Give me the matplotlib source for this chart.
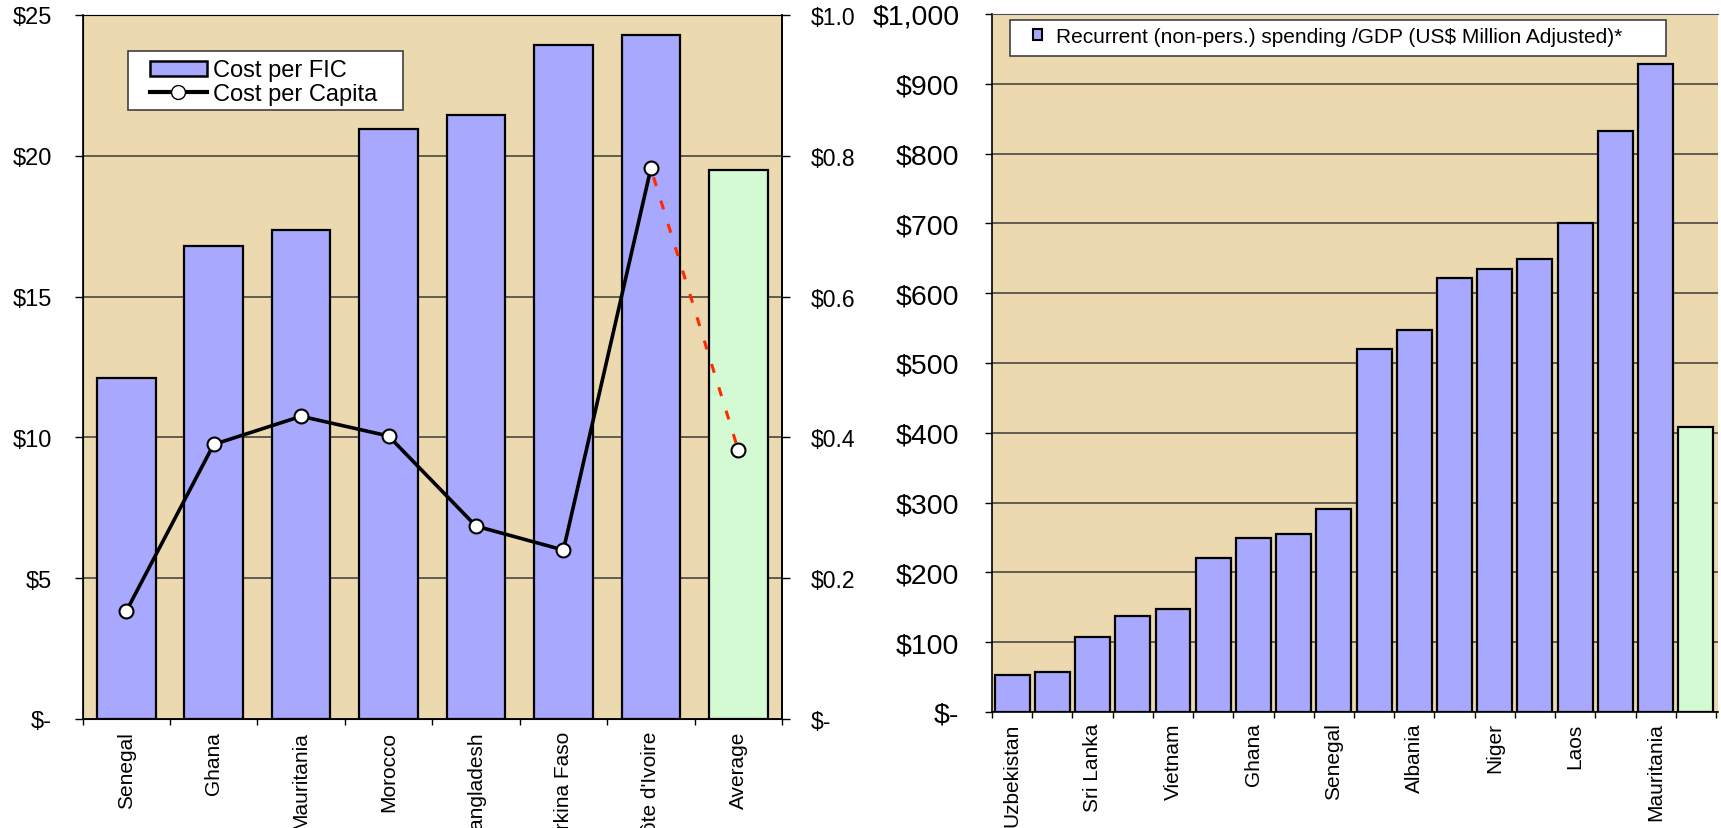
import numpy as np
import matplotlib
matplotlib.use("Agg")
import matplotlib.pyplot as plt
from matplotlib.lines import Line2D
from matplotlib.patches import Patch, Rectangle

plt.rcParams['font.family'] = ['Liberation Sans', 'DejaVu Sans']

# left chart data
fic_countries = ["Senegal", "Ghana", "Mauritania", "Morocco", "Bangladesh",
                 "Burkina Faso", "Côte d'Ivoire", "Average"]
cost_per_fic = [12.1, 16.8, 17.35, 20.95, 21.45, 23.95, 24.3, 19.5]
cost_per_capita = [0.153, 0.39, 0.43, 0.402, 0.274, 0.24, 0.782, 0.382]

# right chart data
spend_countries = ["Uzbekistan", "", "Sri Lanka", "", "Vietnam", "", "Ghana", "",
                   "Senegal", "", "Albania", "", "Niger", "", "Laos", "",
                   "Mauritania", ""]
recurrent_spend = [53, 58, 108, 138, 148, 220, 250, 255, 291, 520, 547, 622,
                   635, 649, 700, 833, 929, 409]

left_ticks = [0, 5, 10, 15, 20, 25]
left_ticklabels = ["$-", "$5", "$10", "$15", "$20", "$25"]
capita_ticks = [0, 0.2, 0.4, 0.6, 0.8, 1.0]
capita_ticklabels = ["$-", "$0.2", "$0.4", "$0.6", "$0.8", "$1.0"]
spend_ticks = list(range(0, 1001, 100))
spend_ticklabels = ["$-"] + ["${:,}".format(v) for v in spend_ticks[1:]]

BLUE = "#a8a8ff"
GREEN = "#d4fad4"
PAPER = "#ecd9b0"
GRID = "#3a3a3a"

W, H = 1721, 829
fig = plt.figure(figsize=(W / 100, H / 100), dpi=100)
fig.patch.set_facecolor("white")


def px_axes(left, top, right, bottom):
    return fig.add_axes([left / W, 1 - bottom / H, (right - left) / W, (bottom - top) / H])


def px_box(left, top, right, bottom):
    # white legend box placed in figure pixels
    r = Rectangle((left / W, 1 - bottom / H), (right - left) / W, (bottom - top) / H,
                  transform=fig.transFigure, facecolor="white", edgecolor="#404040",
                  linewidth=1.2, zorder=5)
    fig.add_artist(r)


# ---------- left chart ----------
ax = px_axes(82.5, 16, 782, 720)
ax.set_facecolor(PAPER)
x = np.arange(len(fic_countries))
colors = [BLUE] * (len(fic_countries) - 1) + [GREEN]
ax.bar(x, cost_per_fic, width=0.67, color=colors, edgecolor="black", linewidth=1.6, zorder=3)
ax.set_xlim(-0.5, len(fic_countries) - 0.5)
ax.set_ylim(0, 25)
ax.set_yticks(left_ticks, left_ticklabels)
ax.yaxis.grid(True, color=GRID, linewidth=1.1, zorder=0)
ax.set_axisbelow(True)
ax.set_xticks(np.arange(len(fic_countries) + 1) - 0.5, [""] * (len(fic_countries) + 1))
ax.set_xticks(x, fic_countries, minor=True)
ax.tick_params(axis="x", which="major", length=4, width=1, direction="out")
ax.tick_params(axis="x", which="minor", length=0, pad=8.5, labelsize=15, labelrotation=90)
ax.tick_params(axis="y", length=5.5, width=1, labelsize=17, pad=16.5)
for lab in ax.get_xticklabels(minor=True):
    lab.set_verticalalignment("top")
for side in ["left", "bottom", "right"]:
    ax.spines[side].set_color("black")
    ax.spines[side].set_linewidth(1.2)
ax.spines["top"].set_color("#707070")

ax2 = ax.twinx()
ax2.set_ylim(0, 1.0)
ax2.set_yticks(capita_ticks, capita_ticklabels)
ax2.tick_params(axis="y", length=5.8, width=1, labelsize=16.5, pad=15)
ax2.plot(x[:7], cost_per_capita[:7], color="black", linewidth=2.6, zorder=3)
ax2.plot(x[6:8], cost_per_capita[6:8], color="#ff2a00", linewidth=2.2,
         linestyle=(5, (3, 5)), zorder=3)
ax2.plot(x, cost_per_capita, linestyle="none", marker="o", markersize=10,
         markerfacecolor="white", markeredgecolor="black", markeredgewidth=1.5, zorder=4)
ax2.spines["right"].set_linewidth(1.2)

px_box(127.7, 51.7, 402.7, 110.7)
handles = [Patch(facecolor=BLUE, edgecolor="black", linewidth=1.8),
           Line2D([], [], color="black", linewidth=3, marker="o", markersize=10,
                  markerfacecolor="white", markeredgecolor="black")]
leg = fig.legend(handles, ["Cost per FIC", "Cost per Capita"], loc="upper left",
                 bbox_to_anchor=(150 / W, 1 - 60.5 / H), bbox_transform=fig.transFigure,
                 fontsize=17, frameon=False, borderpad=0, labelspacing=0.06,
                 handlelength=2.4, handleheight=0.6, handletextpad=0.28, borderaxespad=0)
leg.set_zorder(6)

# ---------- right chart ----------
bx = px_axes(992, 15, 1718, 713)
bx.set_facecolor(PAPER)
xs = np.arange(len(recurrent_spend))
colors2 = [BLUE] * (len(recurrent_spend) - 1) + [GREEN]
bx.bar(xs, recurrent_spend, width=0.87, color=colors2, edgecolor="black", linewidth=1.6, zorder=3)
bx.set_xlim(-0.5, len(recurrent_spend) - 0.45)
bx.set_ylim(0, 1000)
bx.set_yticks(spend_ticks, spend_ticklabels)
bx.yaxis.grid(True, color=GRID, linewidth=1.1, zorder=0)
bx.set_axisbelow(True)
bx.set_xticks(np.arange(len(recurrent_spend) + 1) - 0.5, [""] * (len(recurrent_spend) + 1))
bx.set_xticks(xs[::2], spend_countries[::2], minor=True)
bx.tick_params(axis="x", which="major", length=4, width=1, direction="out")
bx.tick_params(axis="x", which="minor", length=0, pad=7.5, labelsize=15, labelrotation=90)
bx.tick_params(axis="y", length=5, width=1, labelsize=20.5, pad=18.5)
for lab in bx.get_xticklabels(minor=True):
    lab.set_verticalalignment("top")
bx.spines["right"].set_visible(False)
bx.spines["top"].set_color("#505050")
bx.spines["left"].set_linewidth(1.2)
bx.spines["bottom"].set_linewidth(1.2)

px_box(1010, 20.7, 1666, 57.3)
leg2 = fig.legend([Patch(facecolor=BLUE, edgecolor="black", linewidth=1.5)],
                  ["Recurrent (non-pers.) spending /GDP (US$ Million Adjusted)*"],
                  loc="upper left", bbox_to_anchor=(1033 / W, 1 - 27.9 / H),
                  bbox_transform=fig.transFigure, fontsize=15, frameon=False,
                  borderpad=0, handlelength=0.42, handleheight=0.43, handletextpad=0.67,
                  borderaxespad=0)
leg2.set_zorder(6)

fig.savefig("out.png", dpi=100)
